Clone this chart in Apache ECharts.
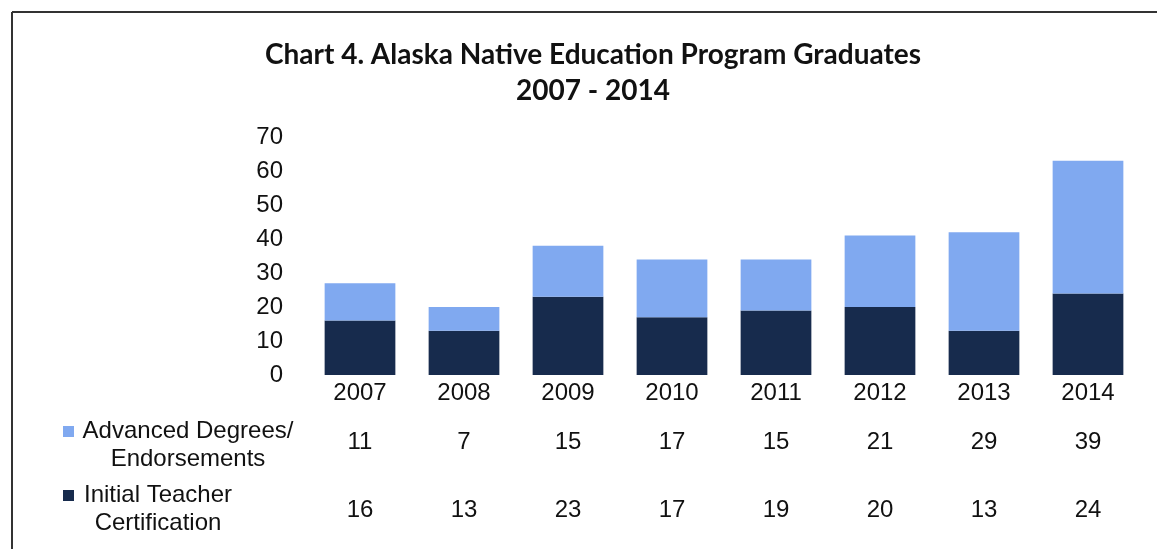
<!DOCTYPE html>
<html>
<head>
<meta charset="utf-8">
<script src="https://cdn.jsdelivr.net/npm/echarts@6/dist/echarts.min.js"></script>
<style>
  html, body { margin: 0; padding: 0; background: #fff; }
  #main { width: 1157px; height: 549px; }
</style>
</head>
<body>
<div id="main"></div>
<script>
// data
var years = ['2007', '2008', '2009', '2010', '2011', '2012', '2013', '2014'];
var advanced = [11, 7, 15, 17, 15, 21, 29, 39];   // Advanced Degrees/ Endorsements
var initial = [16, 13, 23, 17, 19, 20, 13, 24];   // Initial Teacher Certification
var yTicks = [0, 10, 20, 30, 40, 50, 60, 70];

var lightBlue = '#80a9f0';
var navy = '#172b4d';
var font = '"Liberation Sans", Arial, sans-serif';
var fs = 24;

var chart = echarts.init(document.getElementById('main'));

// hidden category axis used only to place a row of the data table
function tableAxis(values, margin) {
  return {
    type: 'category',
    data: years,
    gridIndex: 0,
    position: 'bottom',
    axisLine: { show: false },
    axisTick: { show: false },
    axisLabel: {
      margin: margin,
      verticalAlign: 'middle',
      color: '#111',
      fontFamily: font,
      fontSize: fs,
      formatter: function (v, i) { return String(values[i]); }
    }
  };
}

var option = {
  backgroundColor: '#fff',
  animation: false,
  title: {
    text: 'Chart 4. Alaska Native Education Program Graduates\n2007 - 2014',
    left: 588,
    textAlign: 'center',
    top: 32,
    textStyle: {
      fontFamily: 'Lato, "Open Sans", sans-serif',
      fontWeight: 'bold',
      fontSize: 28,
      lineHeight: 36,
      color: '#111'
    }
  },
  grid: { left: 308, right: 17, top: 137, bottom: 174 },
  xAxis: [
    {
      type: 'category',
      data: years,
      axisLine: { show: false },
      axisTick: { show: false },
      axisLabel: {
        margin: 18,
        verticalAlign: 'middle',
        color: '#111',
        fontFamily: font,
        fontSize: fs
      }
    },
    tableAxis(advanced, 67),
    tableAxis(initial, 135)
  ],
  yAxis: {
    type: 'value',
    min: 0,
    max: 70,
    interval: 10,
    splitLine: { show: false },
    axisLine: { show: false },
    axisTick: { show: false },
    axisLabel: {
      margin: 25,
      color: '#111',
      fontFamily: font,
      fontSize: fs,
      formatter: function (v) { return yTicks.indexOf(v) >= 0 ? String(v) : ''; }
    }
  },
  series: [
    {
      name: 'Initial Teacher Certification',
      type: 'bar',
      stack: 'total',
      barWidth: '68%',
      itemStyle: { color: navy },
      data: initial
    },
    {
      name: 'Advanced Degrees/ Endorsements',
      type: 'bar',
      stack: 'total',
      itemStyle: { color: lightBlue },
      data: advanced
    }
  ],
  graphic: [
    // frame
    { type: 'line', shape: { x1: 12, y1: 12, x2: 1157, y2: 12 }, style: { stroke: '#333', lineWidth: 2 } },
    { type: 'line', shape: { x1: 12, y1: 12, x2: 12, y2: 549 }, style: { stroke: '#333', lineWidth: 2 } },
    // table row keys
    { type: 'rect', shape: { x: 63, y: 426, width: 11, height: 11 }, style: { fill: lightBlue } },
    {
      type: 'text', x: 188, y: 417,
      style: {
        text: 'Advanced Degrees/\nEndorsements', align: 'center', verticalAlign: 'top',
        font: fs + 'px ' + font, lineHeight: 28, fill: '#111'
      }
    },
    { type: 'rect', shape: { x: 63, y: 490, width: 11, height: 11 }, style: { fill: navy } },
    {
      type: 'text', x: 158, y: 481,
      style: {
        text: 'Initial Teacher\nCertification', align: 'center', verticalAlign: 'top',
        font: fs + 'px ' + font, lineHeight: 28, fill: '#111'
      }
    }
  ]
};

chart.setOption(option);
</script>
</body>
</html>
